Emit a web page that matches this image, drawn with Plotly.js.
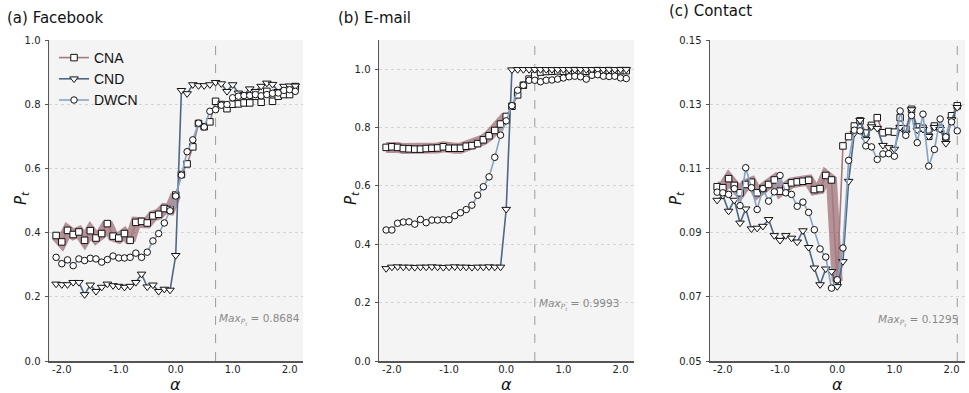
<!DOCTYPE html>
<html>
<head>
<meta charset="utf-8">
<script src="https://cdn.plot.ly/plotly-3.0.1.min.js"></script>
<style>html,body{margin:0;padding:0;background:#fff;}#chart{width:969px;height:393px;}</style>
</head>
<body>
<div id="chart"></div>
<script>
// ---- data ----
const alpha = [-2.1,-2.0,-1.9,-1.8,-1.7,-1.6,-1.5,-1.4,-1.3,-1.2,-1.1,-1.0,-0.9,-0.8,-0.7,-0.6,-0.5,-0.4,-0.3,-0.2,-0.1,0.0,
  0.1,0.2,0.3,0.4,0.5,0.6,0.7,0.8,0.9,1.0,1.1,1.2,1.3,1.4,1.5,1.6,1.7,1.8,1.9,2.0,2.1];
const bandAlpha = [-2.1,-2.0,-1.9,-1.8,-1.7,-1.6,-1.5,-1.4,-1.3,-1.2,-1.1,-1.0,-0.9,-0.8,-0.7,-0.6,-0.5,-0.4,-0.3,-0.2,-0.1,0.0];

const fbCNA = [0.391,0.371,0.407,0.394,0.402,0.376,0.406,0.383,0.397,0.428,0.389,0.383,0.397,0.376,0.432,0.435,0.430,0.452,0.457,0.475,0.472,0.517,
  0.581,0.614,0.667,0.740,0.730,0.745,0.809,0.799,0.786,0.800,0.801,0.804,0.804,0.825,0.806,0.840,0.809,0.825,0.830,0.830,0.855];
const fbCND = [0.240,0.238,0.238,0.245,0.245,0.207,0.237,0.217,0.230,0.240,0.235,0.233,0.230,0.233,0.245,0.271,0.231,0.237,0.217,0.224,0.221,0.329,
  0.843,0.833,0.861,0.858,0.858,0.861,0.868,0.864,0.840,0.861,0.835,0.830,0.848,0.840,0.856,0.866,0.862,0.840,0.856,0.857,0.857];
const fbDWCN = [0.323,0.303,0.315,0.297,0.318,0.313,0.320,0.318,0.308,0.316,0.327,0.321,0.321,0.323,0.336,0.323,0.339,0.374,0.397,0.430,0.468,0.514,
  0.579,0.652,0.689,0.741,0.729,0.778,0.783,0.797,0.799,0.820,0.825,0.827,0.827,0.830,0.826,0.830,0.834,0.835,0.843,0.845,0.840];

const emCNA = [0.732,0.734,0.732,0.728,0.727,0.726,0.726,0.728,0.729,0.730,0.734,0.729,0.729,0.729,0.736,0.738,0.745,0.758,0.772,0.790,0.812,0.838,
  0.873,0.912,0.945,0.966,0.979,0.990,0.992,0.993,0.994,0.993,0.994,0.995,0.994,0.993,0.994,0.995,0.994,0.995,0.994,0.995,0.995];
const emCND = [0.317,0.322,0.323,0.322,0.322,0.321,0.322,0.322,0.323,0.322,0.321,0.322,0.323,0.322,0.322,0.321,0.322,0.322,0.323,0.322,0.322,0.520,
  0.998,0.999,0.999,0.999,0.9993,0.999,0.999,0.999,0.999,0.999,0.999,0.999,0.999,0.999,0.999,0.999,0.999,0.999,0.999,0.999,0.999];
const emDWCN = [0.449,0.449,0.472,0.476,0.477,0.469,0.485,0.474,0.483,0.483,0.484,0.484,0.498,0.508,0.519,0.534,0.568,0.597,0.631,0.698,0.774,0.823,
  0.875,0.928,0.945,0.962,0.962,0.957,0.962,0.963,0.966,0.970,0.974,0.976,0.974,0.966,0.979,0.981,0.976,0.975,0.976,0.970,0.968];

const ctCNA = [0.1043,0.1040,0.1068,0.1047,0.1024,0.1050,0.1057,0.1024,0.1037,0.1050,0.1064,0.1029,0.1043,0.1055,0.1058,0.1060,0.1063,0.1034,0.1037,0.1078,0.1064,0.0748,
  0.1170,0.1199,0.1232,0.1248,0.1210,0.1234,0.1258,0.1211,0.1215,0.1213,0.1258,0.1222,0.1284,0.1229,0.1225,0.1200,0.1232,0.1225,0.1198,0.1264,0.1295];
const ctCND = [0.1001,0.1016,0.0967,0.1001,0.0930,0.0974,0.0912,0.0914,0.0920,0.0941,0.0891,0.0876,0.0891,0.0883,0.0871,0.0906,0.0854,0.0790,0.0738,0.0787,0.0779,0.0732,
  0.0810,0.1060,0.1210,0.1250,0.1190,0.1230,0.1225,0.1172,0.1165,0.1160,0.1228,0.1210,0.1283,0.1220,0.1222,0.1200,0.1228,0.1222,0.1178,0.1252,0.1290];
const ctDWCN = [0.1026,0.1024,0.1019,0.1037,0.0984,0.1102,0.1040,0.0972,0.1037,0.0998,0.1027,0.1078,0.1024,0.1019,0.0982,0.0995,0.0963,0.0909,0.0849,0.0824,0.0727,0.0753,
  0.0852,0.1125,0.1219,0.1217,0.1170,0.1167,0.1128,0.1145,0.1146,0.1138,0.1279,0.1203,0.1265,0.1180,0.1269,0.1107,0.1159,0.1254,0.1198,0.1245,0.1217];

const panelTitles = ['(a) Facebook', '(b) E-mail', '(c) Contact'];
const maxAlpha = [0.7, 0.5, 2.1];
const maxText = ['0.8684', '0.9993', '0.1295'];
const xTickVals = [-2, -1, 0, 1, 2];
const xTickText = ['-2.0', '-1.0', '0.0', '1.0', '2.0'];
const yTickVals = [[0, 0.2, 0.4, 0.6, 0.8, 1.0], [0, 0.2, 0.4, 0.6, 0.8, 1.0], [0.05, 0.07, 0.09, 0.11, 0.13, 0.15]];
const yTickText = [['0.0','0.2','0.4','0.6','0.8','1.0'], ['0.0','0.2','0.4','0.6','0.8','1.0'], ['0.05','0.07','0.09','0.11','0.13','0.15']];
const yRanges = [[0, 1.0], [0, 1.1], [0.05, 0.15]];

// ---- styling ----
const W = 969, H = 393;
const px = v => v / W, py = v => 1 - v / H;
const cCNA = '#a57a7c', cCND = '#4d6784', cDWCN = '#86a4c2', cBand = 'rgba(130,66,76,0.55)';
const series = [[fbCNA, fbCND, fbDWCN], [emCNA, emCND, emDWCN], [ctCNA, ctCND, ctDWCN]];
const xDomains = [[px(49), px(303)], [px(379), px(634)], [px(710), px(965)]];
const yDomain = [py(361), py(40)];
const mk = (sym, sz) => ({symbol: sym, size: sz, color: '#fff', line: {color: '#111', width: 1}});

const traces = [];
const layout = {
  width: W, height: H, margin: {l: 0, r: 0, t: 0, b: 0},
  paper_bgcolor: '#fff', plot_bgcolor: '#f4f4f4',
  showlegend: true,
  legend: {x: px(54), y: py(42), xanchor: 'left', yanchor: 'top', bgcolor: 'rgba(0,0,0,0)',
    font: {family: 'Liberation Sans, Arial, sans-serif', size: 14, color: '#111'}, tracegroupgap: 0},
  annotations: [], shapes: []
};

for (let p = 0; p < 3; p++) {
  const sfx = p === 0 ? '' : String(p + 1);
  const xa = 'x' + sfx, ya = 'y' + sfx;
  const [cna, cnd, dwcn] = series[p];
  traces.push({x: bandAlpha, y: cna.slice(0, bandAlpha.length), xaxis: xa, yaxis: ya, mode: 'lines',
    line: {color: cBand, width: 11}, showlegend: false, hoverinfo: 'skip'});
  traces.push({x: alpha, y: cna, xaxis: xa, yaxis: ya, mode: 'lines+markers', name: 'CNA',
    line: {color: cCNA, width: 1.6}, marker: mk('square', 6.5), showlegend: p === 0});
  traces.push({x: alpha, y: cnd, xaxis: xa, yaxis: ya, mode: 'lines+markers', name: 'CND',
    line: {color: cCND, width: 1.6}, marker: mk('triangle-down', 7.5), showlegend: p === 0});
  traces.push({x: alpha, y: dwcn, xaxis: xa, yaxis: ya, mode: 'lines+markers', name: 'DWCN',
    line: {color: cDWCN, width: 1.6}, marker: mk('circle', 6.5), showlegend: p === 0});

  layout['xaxis' + sfx] = {domain: xDomains[p], anchor: ya, range: [-2.225, 2.235],
    tickvals: xTickVals, ticktext: xTickText, showline: true, linecolor: '#555', linewidth: 1.5,
    ticks: '', showgrid: false, zeroline: false,
    ticklabelstandoff: -2,
    tickfont: {family: 'DejaVu Sans, sans-serif', size: 10, color: '#222'}};
  layout['yaxis' + sfx] = {domain: yDomain, anchor: xa, range: yRanges[p],
    tickvals: yTickVals[p], ticktext: yTickText[p], showline: true, linecolor: '#555', linewidth: 1.5,
    ticks: 'outside', ticklen: 3, tickcolor: '#555', showgrid: true, gridcolor: '#d4d4d4', griddash: 'dot',
    gridwidth: 1, zeroline: false, ticklabelstandoff: 2,
    tickfont: {family: 'DejaVu Sans, sans-serif', size: 10, color: '#222'}};

  layout.shapes.push({type: 'line', xref: xa, yref: ya + ' domain', x0: maxAlpha[p], x1: maxAlpha[p], y0: 0, y1: 1,
    line: {color: '#9a9a9a', width: 1, dash: 'dash'}, layer: 'below'});

  const titleX = [5, 336, 667][p], titleY = [18, 18, 11][p];
  layout.annotations.push({text: panelTitles[p], xref: 'paper', yref: 'paper', x: px(titleX), y: py(titleY),
    xanchor: 'left', yanchor: 'middle', showarrow: false,
    font: {family: 'DejaVu Sans, sans-serif', size: 15, color: '#111'}});
  const ylabX = [22, 352, 677][p];
  layout.annotations.push({text: '<i>P<sub>t</sub></i>', xref: 'paper', yref: 'paper', x: px(ylabX), y: py(198),
    xanchor: 'center', yanchor: 'middle', textangle: -90, showarrow: false,
    font: {family: 'DejaVu Sans, sans-serif', size: 15, color: '#111'}});
  layout.annotations.push({text: '<i>α</i>', xref: xa, yref: 'paper', x: 0, y: py(384),
    xanchor: 'center', yanchor: 'middle', showarrow: false,
    font: {family: 'DejaVu Sans, sans-serif', size: 16, color: '#111'}});
  const mx = [[217, 'left'], [537, 'left'], [960, 'right']][p];
  const my = [319, 304, 320][p];
  layout.annotations.push({text: '<i>Max<sub>P<sub>t</sub></sub></i> = ' + maxText[p], xref: 'paper', yref: 'paper',
    x: px(mx[0]), y: py(my), xanchor: mx[1], yanchor: 'middle', showarrow: false,
    font: {family: 'DejaVu Sans, sans-serif', size: 10.5, color: '#8a8a8a'}});
}

Plotly.newPlot('chart', traces, layout, {staticPlot: true, displayModeBar: false});
</script>
</body>
</html>
